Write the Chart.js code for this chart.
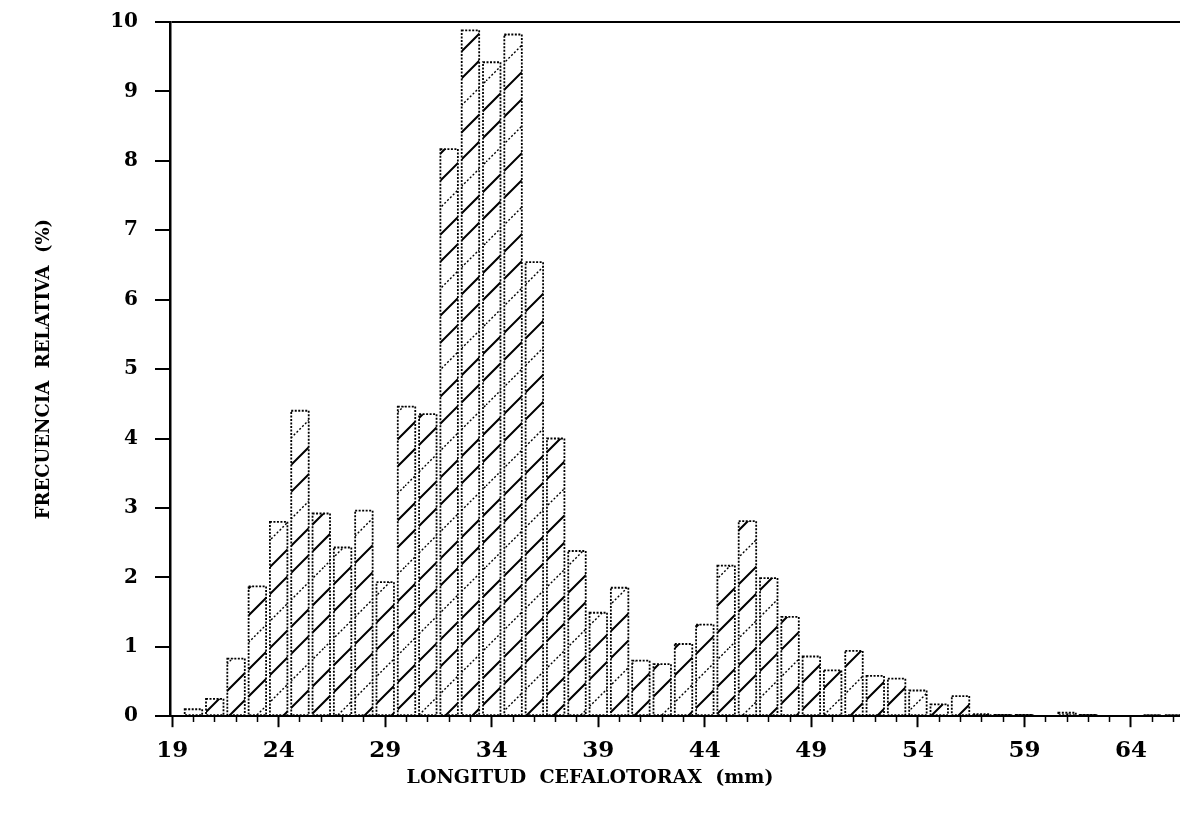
<!DOCTYPE html>
<html>
<head>
<meta charset="utf-8">
<script src="https://cdn.jsdelivr.net/npm/chart.js@4.4.1/dist/chart.umd.min.js"></script>
<style>
  html, body { margin: 0; padding: 0; background: #fff; overflow: hidden; }
  canvas { display: block; }
</style>
</head>
<body>
<canvas id="myChart" width="1180" height="816"></canvas>
<script>
// length classes (mm)
const lengths = [19, 20, 21, 22, 23, 24, 25, 26, 27, 28, 29, 30, 31, 32, 33, 34,
                 35, 36, 37, 38, 39, 40, 41, 42, 43, 44, 45, 46, 47, 48, 49, 50,
                 51, 52, 53, 54, 55, 56, 57, 58, 59, 60, 61, 62, 63, 64, 65, 66];
// relative frequency (%) per class
const frequency = [0, 0.1, 0.25, 0.83, 1.87, 2.8, 4.4, 2.92, 2.43, 2.96, 1.93, 4.46, 4.35, 8.17, 9.88, 9.42,
                   9.82, 6.54, 4.0, 2.38, 1.49, 1.85, 0.8, 0.75, 1.04, 1.32, 2.17, 2.81, 1.99, 1.43, 0.86, 0.66,
                   0.94, 0.58, 0.54, 0.37, 0.17, 0.29, 0.03, 0.02, 0.02, 0, 0.05, 0.02, 0, 0, 0.01, 0.01];
// labelled ticks on the length axis
const lengthLabels = [19, 24, 29, 34, 39, 44, 49, 54, 59, 64];

const FONT = "'DejaVu Serif', serif";

const isMajor = c => !!c.tick && lengthLabels.includes(c.tick.value);

// "/" hatching every 27px: two solid lines, then a dotted one
function hatchPattern() {
  const S = 81;
  const c = document.createElement('canvas');
  c.width = S; c.height = S;
  const g = c.getContext('2d');
  const diag = (k) => {
    g.moveTo(-3, k + 3); g.lineTo(k + 3, -3);
    g.moveTo(k - 3, S + 3); g.lineTo(S + 3, k - 3);
  };
  g.strokeStyle = '#000';
  g.lineWidth = 2;
  g.beginPath(); diag(27); diag(54); g.stroke();
  g.setLineDash([2, 2]);
  g.lineWidth = 1.4;
  g.beginPath(); g.moveTo(-3, S + 3); g.lineTo(S + 3, -3); g.stroke();
  return g.createPattern(c, 'repeat');
}

// dotted outline round each bar
const dottedOutline = {
  id: 'dottedOutline',
  afterDatasetsDraw(chart) {
    const ctx = chart.ctx;
    ctx.save();
    ctx.strokeStyle = '#000';
    ctx.lineWidth = 1.8;
    ctx.setLineDash([2, 1.5]);
    chart.getDatasetMeta(0).data.forEach((bar, i) => {
      if (!frequency[i]) return;
      const p = bar.getProps(['x', 'y', 'base', 'width'], true);
      ctx.strokeRect(p.x - p.width / 2, p.y, p.width, p.base - p.y);
    });
    ctx.restore();
  }
};

const ctx = document.getElementById('myChart');
new Chart(ctx, {
  type: 'bar',
  data: {
    datasets: [{
      data: lengths.map((l, i) => ({ x: l, y: frequency[i] })),
      backgroundColor: hatchPattern(),
      borderWidth: 0,
      barPercentage: 0.82,
      categoryPercentage: 1
    }]
  },
  plugins: [dottedOutline],
  options: {
    responsive: false,
    animation: false,
    layout: { autoPadding: false, padding: { top: 22, right: 0, left: 0, bottom: 0 } },
    plugins: {
      legend: { display: false },
      tooltip: { enabled: false },
      title: {
        display: true,
        position: 'bottom',
        text: 'LONGITUD  CEFALOTORAX  (mm)',
        color: '#000',
        font: { family: FONT, size: 19, weight: 'bold' },
        padding: { top: 0, bottom: 27 }
      }
    },
    scales: {
      x: {
        type: 'linear',
        offset: false,
        min: 18.9,
        max: 66.3,
        afterBuildTicks: s => { s.ticks = lengths.map(v => ({ value: v })); },
        afterFit: s => {
          s.height = 50;
          s.paddingLeft = 0;
          s.paddingRight = 0;
        },
        border: { color: '#000', width: 2 },
        grid: {
          offset: false,
          drawOnChartArea: false,
          color: '#000',
          tickColor: '#000',
          tickLength: 11,
          tickWidth: c => isMajor(c) ? 2 : 1.5,
          tickBorderDash: c => isMajor(c) ? [] : [5, 40]
        },
        ticks: {
          autoSkip: false,
          maxRotation: 0,
          padding: 10,
          color: '#000',
          font: { family: FONT, size: 23, weight: 'bold' },
          callback: v => lengthLabels.includes(v) ? String(v) : ''
        }
      },
      y: {
        min: 0,
        max: 10,
        afterFit: s => {
          s.width = 170;
          s.paddingTop = 0;
          s.paddingBottom = 0;
        },
        border: { color: '#000', width: 2.5 },
        grid: {
          color: c => (c.tick && c.tick.value === 10) ? '#000' : 'rgba(0,0,0,0)',
          lineWidth: 2,
          tickColor: '#000',
          tickLength: 15,
          tickWidth: 2
        },
        ticks: {
          stepSize: 1,
          padding: 17,
          color: '#000',
          font: { family: FONT, size: 20, weight: 'bold' }
        },
        title: {
          display: true,
          text: 'FRECUENCIA  RELATIVA  (%)',
          color: '#000',
          font: { family: FONT, size: 18, weight: 'bold' },
          padding: { top: 34, bottom: 0 }
        }
      }
    }
  }
});
</script>
</body>
</html>
